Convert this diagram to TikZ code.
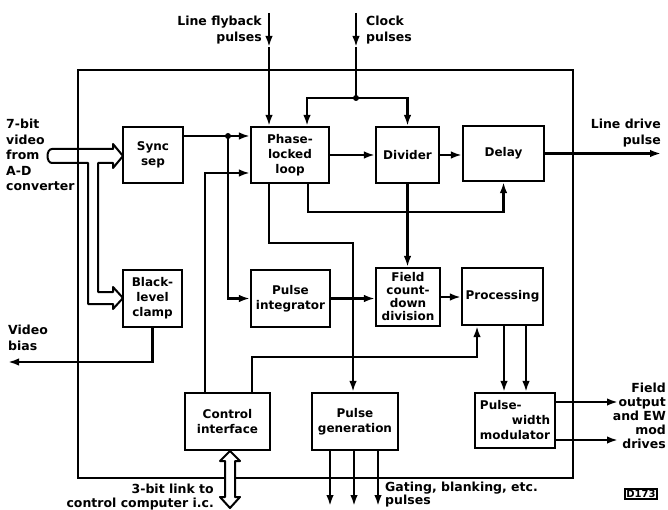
\documentclass[tikz,border=0pt]{standalone}
\usepackage{fontspec}
\setmainfont{DejaVu Sans}
\usetikzlibrary{arrows.meta}
\begin{document}
\begin{tikzpicture}[x=1pt,y=-1pt,
  blk/.style={draw, line width=2.1pt, inner sep=0pt, align=center, font=\bfseries\fontsize{12}{15}\selectfont},
  conn/.style={line width=2.2pt},
  arr/.style={conn, -{Latex[length=11pt,width=7.5pt]}},
  lbl/.style={inner sep=0pt, font=\bfseries\fontsize{12.5}{15.5}\selectfont},
  hollow/.style={line width=2pt, line join=round},
  dot/.style={circle, fill, inner sep=0pt, minimum size=6pt},
]
\useasboundingbox (0,0) rectangle (668,510);

% frame
\node[draw, line width=2.1pt, inner sep=0pt, minimum width=495pt, minimum height=408pt] (frame) at (325.5,274) {};

% blocks
\node[blk, minimum width=60pt, minimum height=56pt] (sync) at (153,155) {Sync\\sep};
\node[blk, minimum width=59pt, minimum height=57pt] (clamp) at (152.5,298.5) {Black-\\level\\clamp};
\node[blk, minimum width=78pt, minimum height=56pt] (pll) at (290,155) {Phase-\\locked\\loop};
\node[blk, minimum width=63pt, minimum height=56pt] (div) at (407.5,155) {Divider};
\node[blk, minimum width=81pt, minimum height=55pt] (delay) at (503.5,153.5) {Delay};
\node[blk, minimum width=79pt, minimum height=57pt] (pint) at (290.5,298.5) {Pulse\\integrator};
\node[blk, minimum width=64pt, minimum height=58pt, font=\bfseries\fontsize{12}{13}\selectfont] (field) at (408,297) {Field\\count-\\down\\division};
\node[blk, minimum width=81pt, minimum height=57pt] (proc) at (502.5,296.5) {Processing};
\node[blk, minimum width=80pt, minimum height=55pt, align=left] (pwm) at (515,420.5) {Pulse-\\\hspace*{32pt}width\\modulator};
\node[blk, minimum width=85pt, minimum height=57pt] (ctrl) at (227.5,421.5) {Control\\interface};
\node[blk, minimum width=86pt, minimum height=57pt] (pgen) at (355,421.5) {Pulse\\generation};

% named free ends / junctions
\coordinate (lfin) at (269,13);
\coordinate (lfa) at (269,47);
\coordinate (ckin) at (356,13);
\coordinate (cka) at (356,47);
\coordinate (j2) at (356,98);
\coordinate (j1) at (228,136);
\coordinate (ldout) at (661,154);
\coordinate (fo) at (618,0);
\coordinate (vb) at (8,362);
\coordinate (gy) at (0,506);

% inputs at top
\draw[arr] (lfin) -- (lfa);
\draw[arr] (lfa) -- (lfa |- pll.north);
\draw[arr] (ckin) -- (cka);
\draw[conn] (cka) -- (j2);
\draw[arr] (j2) -| ([xshift=17pt]pll.north);
\draw[arr] (j2) -| (div.north);
\node[dot] (dj2) at (j2) {};

% sync -> pll and pulse integrator
\draw[arr] ([yshift=19pt]sync.east) -- ([yshift=19pt]pll.west);
\draw[arr] (j1) |- (pint.west);
\node[dot] (dj1) at (j1) {};

% control interface links
\draw[arr] ([xshift=-22.5pt]ctrl.north) |- ([yshift=-18pt]pll.west);
\draw[arr] ([xshift=24.5pt]ctrl.north) -- ++(0,-35) -| ([xshift=-25.5pt]proc.south);

% main chain
\draw[arr] (pll.east) -- (div.west);
\draw[arr] (div.east) -- (div.east -| delay.west);
\draw[arr] (delay.east) -- (delay.east -| ldout);

% pll bottom lines
\draw[arr] ([xshift=-21pt]pll.south) -- ++(0,59) -| ([xshift=-2pt]pgen.north);
\draw[arr] ([xshift=18pt]pll.south) -- ++(0,28) -| (delay.south);

% field chain
\draw[arr] (div.south) -- (div.south |- field.north);
\draw[arr] (pint.east) -- (pint.east -| field.west);
\draw[arr] (field.east) -- (field.east -| proc.west);

% processing -> pwm
\draw[arr] ([xshift=1.5pt]proc.south) -- ([xshift=1.5pt]proc.south |- pwm.north);
\draw[arr] ([xshift=23.5pt]proc.south) -- ([xshift=23.5pt]proc.south |- pwm.north);

% pwm outputs
\draw[arr] ([yshift=18.5pt]pwm.east) -- ([yshift=18.5pt]pwm.east -| fo);
\draw[arr] ([yshift=-19.5pt]pwm.east) -- ([yshift=-19.5pt]pwm.east -| fo);

% clamp -> video bias
\draw[arr] (clamp.south) |- (vb);

% pulse generation outputs
\draw[arr] ([xshift=-25pt]pgen.south) -- ([xshift=-25pt]pgen.south |- gy);
\draw[arr] ([xshift=-1pt]pgen.south) -- ([xshift=-1pt]pgen.south |- gy);
\draw[arr] ([xshift=23pt]pgen.south) -- ([xshift=23pt]pgen.south |- gy);

% hollow video bus arrow
\draw[hollow] (52,149) -- (113,149) -- (113,144) -- (123,156) -- (113,168) -- (113,163)
  -- (98,163) -- (98,292) -- (113,292) -- (113,287) -- (123,298) -- (113,309) -- (113,304)
  -- (88,304) -- (88,163) -- (52,163) .. controls (46,163) and (46,149) .. (52,149) -- cycle;

% hollow 3-bit link arrow
\draw[hollow, fill=white] (230,451) -- (240,461) -- (235,461) -- (235,497) -- (240,497)
  -- (230,508) -- (220,497) -- (225,497) -- (225,461) -- (220,461) -- cycle;

% labels
\node[lbl, anchor=north east, align=right] (tlf) at (262,16) {Line flyback\\pulses};
\node[lbl, anchor=north west, align=left] (tck) at (366,16) {Clock\\pulses};
\node[lbl, anchor=north west, align=left] (tvid) at (6,119) {7-bit\\video\\from\\A-D\\converter};
\node[lbl, anchor=north east, align=right] (tld) at (661,119) {Line drive\\pulse};
\node[lbl, anchor=north west, align=left] (tvb) at (8,325) {Video\\bias};
\node[lbl, anchor=north east, align=right, font=\bfseries\fontsize{12.5}{14}\selectfont] (tfo) at (666,383) {Field\\output\\and EW\\mod\\drives};
\node[lbl, anchor=north east, align=right, font=\bfseries\fontsize{12.5}{14}\selectfont] (tlink) at (214,484) {3-bit link to\\control computer i.c.};
\node[lbl, anchor=north west, align=left, font=\bfseries\fontsize{12.5}{13}\selectfont] (tgat) at (385,482) {Gating, blanking, etc.\\pulses};
\node[draw, line width=1.5pt, inner sep=1.2pt, font=\bfseries\fontsize{10}{10}\selectfont] (tfig) at (641,494) {D173};
\end{tikzpicture}
\end{document}
